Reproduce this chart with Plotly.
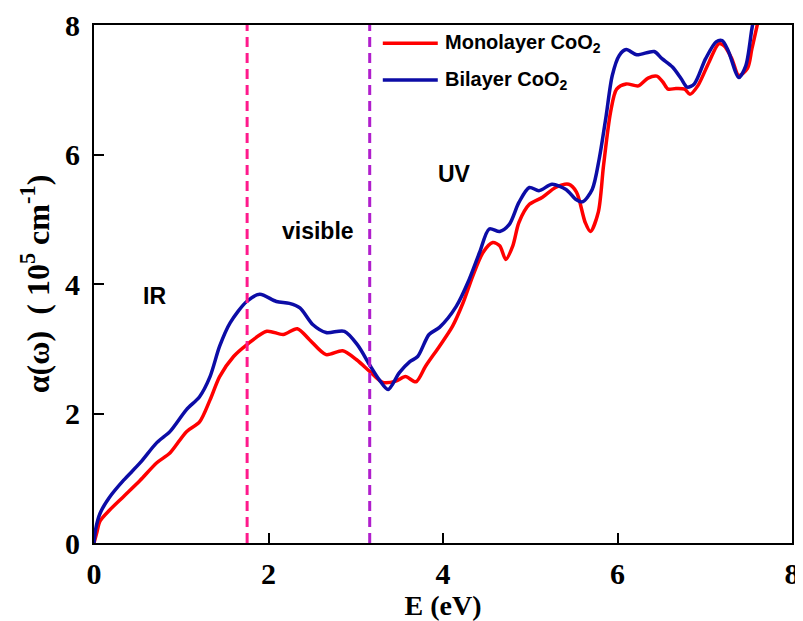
import plotly.graph_objects as go

# ---- data ----
E_bi = [0, 0.02, 0.07, 0.18, 0.34, 0.53, 0.72, 0.87, 1.06, 1.21, 1.33, 1.44, 1.56, 1.75, 1.90,
        2.09, 2.24, 2.36, 2.51, 2.66, 2.87, 3.02, 3.16, 3.27, 3.37, 3.50, 3.62, 3.71, 3.84, 3.96,
        4.15, 4.30, 4.42, 4.53, 4.65, 4.76, 4.87, 4.99, 5.10, 5.25, 5.41, 5.52, 5.60, 5.71, 5.79,
        5.87, 5.94, 6.02, 6.10, 6.22, 6.42, 6.51, 6.63, 6.73, 6.80, 6.88, 7.01, 7.13, 7.20, 7.27,
        7.39, 7.47, 7.54, 7.60]
a_bi = [0, 0.22, 0.46, 0.71, 0.97, 1.24, 1.55, 1.72, 2.06, 2.26, 2.57, 3.04, 3.40, 3.73, 3.84,
        3.73, 3.70, 3.63, 3.37, 3.25, 3.27, 3.06, 2.75, 2.52, 2.37, 2.63, 2.80, 2.88, 3.22, 3.33,
        3.65, 4.07, 4.49, 4.85, 4.81, 4.92, 5.26, 5.49, 5.44, 5.54, 5.46, 5.31, 5.27, 5.46, 5.93,
        6.60, 7.22, 7.53, 7.62, 7.54, 7.59, 7.48, 7.35, 7.17, 7.04, 7.09, 7.48, 7.74, 7.76, 7.60,
        7.19, 7.37, 7.94, 8.40]

E_mono = [0, 0.03, 0.07, 0.18, 0.34, 0.53, 0.72, 0.87, 1.06, 1.21, 1.33, 1.44, 1.60, 1.75, 1.98,
          2.17, 2.33, 2.47, 2.66, 2.85, 3.01, 3.16, 3.31, 3.46, 3.57, 3.69, 3.80, 3.96, 4.11, 4.23,
          4.34, 4.46, 4.57, 4.65, 4.72, 4.80, 4.87, 4.99, 5.14, 5.29, 5.44, 5.53, 5.63, 5.69, 5.78,
          5.84, 5.92, 5.99, 6.10, 6.24, 6.35, 6.45, 6.52, 6.58, 6.67, 6.77, 6.83, 6.92, 7.05, 7.16,
          7.22, 7.31, 7.39, 7.49, 7.54, 7.60, 7.66]
a_mono = [0, 0.15, 0.34, 0.51, 0.72, 0.97, 1.24, 1.39, 1.72, 1.87, 2.21, 2.57, 2.88, 3.06, 3.27,
          3.22, 3.31, 3.14, 2.91, 2.97, 2.83, 2.65, 2.48, 2.50, 2.57, 2.49, 2.73, 3.04, 3.35, 3.71,
          4.12, 4.49, 4.64, 4.59, 4.38, 4.59, 4.95, 5.23, 5.34, 5.49, 5.54, 5.42, 4.95, 4.81, 5.11,
          5.83, 6.65, 7.01, 7.09, 7.06, 7.18, 7.21, 7.12, 7.01, 7.02, 7.01, 6.93, 7.06, 7.43, 7.71,
          7.68, 7.48, 7.22, 7.33, 7.63, 7.99, 8.40]

series_names = ["Monolayer CoO<sub>2</sub>", "Bilayer CoO<sub>2</sub>"]
region_bounds = [1.755, 3.16]           # IR/visible and visible/UV boundaries (eV)
region_labels = ["IR", "visible", "UV"]
region_label_pos = [(0.69, 3.82), (2.57, 4.82), (4.13, 5.7)]
x_ticks = [0, 2, 4, 6, 8]
y_ticks = [0, 2, 4, 6, 8]

RED = "#ff0000"
BLUE = "#0c0ca6"
SERIF = "Liberation Serif"
SANS = "Liberation Sans"

fig = go.Figure()
fig.add_trace(go.Scatter(x=E_mono, y=a_mono, mode="lines", name=series_names[0],
                         line=dict(color=RED, width=3.5, shape="spline", smoothing=0.8),
                         showlegend=False))
fig.add_trace(go.Scatter(x=E_bi, y=a_bi, mode="lines", name=series_names[1],
                         line=dict(color=BLUE, width=3.5, shape="spline", smoothing=0.8),
                         showlegend=False))

# region boundaries
for xb, col in zip(region_bounds, ["#ff1a8c", "#b01ecc"]):
    fig.add_shape(type="line", x0=xb, x1=xb, y0=0, y1=8, xref="x", yref="y",
                  line=dict(color=col, width=3, dash="10px,6px"))

# region labels
for txt, (xx, yy) in zip(region_labels, region_label_pos):
    fig.add_annotation(x=xx, y=yy, text=f"<b>{txt}</b>", showarrow=False,
                       font=dict(family=SANS, size=23, color="black"))

# manual legend
leg_y = [7.72, 7.15]
for name, col, ly in zip(series_names, [RED, BLUE], leg_y):
    fig.add_shape(type="line", x0=3.31, x1=3.94, y0=ly, y1=ly, xref="x", yref="y",
                  line=dict(color=col, width=3.5))
    fig.add_annotation(x=4.0, y=ly, text=f"<b>{name}</b>", showarrow=False, xanchor="left",
                       yanchor="middle", font=dict(family=SANS, size=20, color="black"))

axis_common = dict(showline=True, linecolor="black", linewidth=2, mirror=True,
                   ticks="inside", ticklen=10, tickwidth=2, tickcolor="black",
                   showgrid=False, zeroline=False, automargin=False,
                   tickfont=dict(family=SERIF, size=30, color="black"))

fig.update_xaxes(range=[0, 8], tickvals=x_ticks, ticktext=[f"<b>{t}</b>" for t in x_ticks],
                 title=dict(text="<b>E (eV)</b>", font=dict(family=SERIF, size=28, color="black"),
                            standoff=8),
                 ticklabelstandoff=3, **axis_common)
fig.update_yaxes(range=[0, 8], tickvals=y_ticks, ticktext=[f"<b>{t}</b>" for t in y_ticks],
                 title=dict(text="<b>\u03b1(\u03c9)\u00a0\u00a0(\u00a010<sup>5</sup> cm<sup>-1</sup>)</b>",
                            font=dict(family=SERIF, size=32, color="black"), standoff=6),
                 ticklabelstandoff=6, **axis_common)

# the page body adds an 8px offset, so the figure is 8px smaller and margins shifted
fig.update_layout(width=795, height=613, margin=dict(l=86, r=11, t=17, b=78),
                  paper_bgcolor="white", plot_bgcolor="white")

fig.write_html("out.html")
